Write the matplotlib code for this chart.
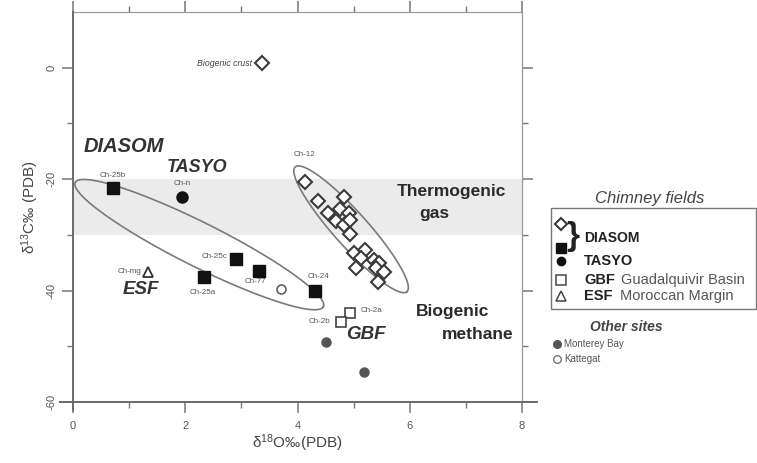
import numpy as np
import matplotlib
matplotlib.use("Agg")
import matplotlib.pyplot as plt
from matplotlib.lines import Line2D
from matplotlib.patches import Rectangle

plt.rcParams['font.family'] = ['Liberation Sans', 'DejaVu Sans']
plt.rcParams['mathtext.fontset'] = 'custom'
plt.rcParams['mathtext.rm'] = 'Liberation Sans'
plt.rcParams['mathtext.it'] = 'Liberation Sans:italic'
plt.rcParams['mathtext.bf'] = 'Liberation Sans:bold'

# ---------------- data ----------------
diasom_open_x = [4.13, 4.36, 4.82, 4.55, 4.75, 4.91, 4.68, 4.82, 4.93, 4.93,
                 5.00, 5.20, 5.13, 5.05, 5.36, 5.45, 5.39, 5.55, 5.43]
diasom_open_y = [-20.6, -24.0, -23.2, -26.0, -25.3, -26.0, -27.6, -28.2, -27.3, -29.8,
                 -33.2, -32.8, -34.1, -35.9, -34.5, -35.0, -35.9, -36.6, -38.4]
diasom_filled_x = [0.71, 2.91, 2.34, 3.32, 4.32]
diasom_filled_y = [-21.5, -34.3, -37.5, -36.4, -40.0]
diasom_filled_labels = ['Ch-25b', 'Ch-25c', 'Ch-25a', 'Ch-77', 'Ch-24']
tasyo_x = [1.95]
tasyo_y = [-23.2]
tasyo_labels = ['Ch-n']
gbf_x = [4.93, 4.77]
gbf_y = [-44.0, -45.6]
gbf_labels = ['Ch-2a', 'Ch-2b']
esf_x = [1.34]
esf_y = [-36.6]
esf_labels = ['Ch-mg']
monterey_x = [4.50, 5.18]
monterey_y = [-49.2, -54.7]
kattegat_x = [3.70]
kattegat_y = [-39.8]
crust_x = [3.36]
crust_y = [0.8]
xticks = [0, 2, 4, 6, 8]
yticks = [-60, -40, -20, 0]

W, H = 757, 463
fig = plt.figure(figsize=(W / 100, H / 100), dpi=100)
ax = fig.add_axes([73 / W, 1 - 402 / H, 449 / W, 390 / H])
ax.set_xlim(0, 8)
ax.set_ylim(-60, 10)

# thermogenic band
ax.axhspan(-30, -20, color='#ebebeb', zorder=0, lw=0)

DARK = '#222222'
OPEN_EC = '#3a3a3a'

ax.plot(diasom_open_x, diasom_open_y, 'D', ms=7, mfc='white', mec=OPEN_EC, mew=1.5, ls='none', zorder=4)
ax.plot(crust_x, crust_y, 'D', ms=7, mfc='white', mec=OPEN_EC, mew=1.5, ls='none', zorder=4)
ax.plot(diasom_filled_x, diasom_filled_y, 's', ms=8, mfc='#111111', mec='#111111', ls='none', zorder=4)
ax.plot(tasyo_x, tasyo_y, 'o', ms=8, mfc='#111111', mec='#111111', ls='none', zorder=4)
ax.plot(gbf_x, gbf_y, 's', ms=6.5, mfc='white', mec='#444444', mew=1.2, ls='none', zorder=4)
ax.plot(esf_x, esf_y, '^', ms=7, mfc='white', mec='#333333', mew=1.3, ls='none', zorder=4)
ax.plot(monterey_x, monterey_y, 'o', ms=6.5, mfc='#555555', mec='#555555', ls='none', zorder=4)
ax.plot(kattegat_x, kattegat_y, 'o', ms=6.5, mfc='white', mec='#555555', mew=1.1, ls='none', zorder=4)

# point labels (offsets in points)
lab_kw = dict(textcoords='offset points', fontsize=5.8, color='#555555', va='center', ha='center', zorder=5)
filled_offsets = [(0, 8.6), (-16, 1.4), (-1, -11.5), (-3, -8), (2, 10)]
for x, y, t, off in zip(diasom_filled_x, diasom_filled_y, diasom_filled_labels, filled_offsets):
    ax.annotate(t, (x, y), xytext=off, **lab_kw)
ax.annotate(tasyo_labels[0], (tasyo_x[0], tasyo_y[0]), xytext=(0, 10), **lab_kw)
ax.annotate(gbf_labels[0], (gbf_x[0], gbf_y[0]), xytext=(16, 1.5), **lab_kw)
ax.annotate(gbf_labels[1], (gbf_x[1], gbf_y[1]), xytext=(-15, 0), **lab_kw)
ax.annotate(esf_labels[0], (esf_x[0], esf_y[0]), xytext=(-13.5, 0), **lab_kw)
ax.annotate('Ch-12', (diasom_open_x[0], diasom_open_y[0]), xytext=(0, 20), **lab_kw)
ax.annotate('Biogenic crust', (crust_x[0], crust_y[0]), xytext=(-7, 0), textcoords='offset points',
            fontsize=6.3, style='italic', color='#444444', va='center', ha='right')

# ellipses (given by end points in data coords and half width in pixels)
def draw_ellipse(p1, p2, half_w):
    T = ax.transData
    d1 = T.transform(p1)
    d2 = T.transform(p2)
    c = (d1 + d2) / 2
    a = (d2 - d1) / 2
    n = np.array([-a[1], a[0]]) / np.hypot(*a) * half_w
    t = np.linspace(0, 2 * np.pi, 300)
    pts = c + np.outer(np.cos(t), a) + np.outer(np.sin(t), n)
    dat = T.inverted().transform(pts)
    ax.plot(dat[:, 0], dat[:, 1], color='#7a7a7a', lw=1.2, zorder=3)

draw_ellipse((0.04, -20.6), (4.46, -42.9), 22)
draw_ellipse((3.96, -17.8), (5.95, -40.2), 17)

# group labels
big = dict(fontweight='bold', style='italic', color='#333333', ha='center', va='center')
ax.text(0.91, -14.2, 'DIASOM', fontsize=14.5, **big)
ax.text(2.21, -18.0, 'TASYO', fontsize=13, **big)
ax.text(1.21, -39.8, 'ESF', fontsize=13.5, **big)
ax.text(5.21, -47.9, 'GBF', fontsize=13.5, **big)
reg = dict(fontweight='bold', color='#2a2a2a', ha='center', va='center', fontsize=12.5)
ax.text(6.75, -22.3, 'Thermogenic', **reg)
ax.text(6.43, -26.2, 'gas', **reg)
ax.text(6.77, -43.8, 'Biogenic', **reg)
ax.text(7.21, -47.9, 'methane', **reg)

# axes styling
ax.set_xticks(xticks)
ax.set_xticks([1, 3, 5, 7], minor=True)
ax.set_yticks(yticks)
ax.set_yticks([-50, -30, -10], minor=True)
ax.set_yticklabels([str(v) for v in yticks], rotation=90, va='center')
ax.tick_params(axis='both', which='major', direction='out', length=8, width=1.1, color='#777777',
               labelsize=8, labelcolor='#555555', top=True, right=True)
ax.tick_params(axis='both', which='minor', direction='out', length=4, width=1.0, color='#777777',
               top=True, right=True)
ax.tick_params(axis='x', which='major', pad=6)
ax.tick_params(axis='y', which='major', pad=4)
for s in ['left', 'bottom']:
    ax.spines[s].set_visible(False)
for s in ['top', 'right']:
    ax.spines[s].set_color('#9a9a9a')
    ax.spines[s].set_linewidth(0.9)
# extended left/bottom axis lines (Grapher style)
ax.add_line(Line2D([-13 / 449, 1 + 15 / 449], [0, 0], transform=ax.transAxes, color='#6a6a6a',
                   lw=1.4, clip_on=False, zorder=6))
ax.add_line(Line2D([0, 0], [-8 / 390, 1], transform=ax.transAxes, color='#6a6a6a',
                   lw=1.4, clip_on=False, zorder=6))

ax.set_xlabel(r'δ$^{18}$O‰(PDB)', fontsize=11, color='#444444', labelpad=1)
ax.set_ylabel(r'δ$^{13}$C‰ (PDB)', fontsize=11, color='#444444', labelpad=4)

# -------- legend (figure coords) --------
def fx(px):
    return px / W

def fy(py):
    return 1 - py / H

fig.text(fx(650), fy(198), 'Chimney fields', style='italic', fontsize=12, color='#444444',
         ha='center', va='center')
fig.patches.append(Rectangle((fx(551), fy(309)), fx(756) - fx(551), fy(208) - fy(309),
                             transform=fig.transFigure, fill=False, ec='#777777', lw=1.0))

def fmark(px, py, **kw):
    fig.add_artist(Line2D([fx(px)], [fy(py)], transform=fig.transFigure, ls='none', **kw))

fmark(561, 224, marker='D', ms=6, mfc='white', mec=OPEN_EC, mew=1.5)
fmark(561, 248, marker='s', ms=6.5, mfc='#111111', mec='#111111')
fig.text(fx(573), fy(236), '}', fontsize=24, fontweight='bold', color='#222222', ha='center', va='center')
fig.text(fx(584), fy(238), 'DIASOM', fontsize=10, fontweight='bold', color='#222222', va='center')
fmark(561, 261, marker='o', ms=6, mfc='#111111', mec='#111111')
fig.text(fx(584), fy(261), 'TASYO', fontsize=10.5, fontweight='bold', color='#222222', va='center')
fmark(561, 280, marker='s', ms=6.5, mfc='white', mec='#444444', mew=1.1)
fig.text(fx(584), fy(280), 'GBF', fontsize=10.5, fontweight='bold', color='#222222', va='center')
fig.text(fx(621), fy(280), 'Guadalquivir Basin', fontsize=10.5, color='#555555', va='center')
fmark(561, 296, marker='^', ms=7, mfc='white', mec='#444444', mew=1.1)
fig.text(fx(584), fy(296), 'ESF', fontsize=10.5, fontweight='bold', color='#222222', va='center')
fig.text(fx(620), fy(296), 'Moroccan Margin', fontsize=10.5, color='#555555', va='center')

fig.text(fx(626), fy(327), 'Other sites', style='italic', fontweight='bold', fontsize=10,
         color='#444444', ha='center', va='center')
fmark(557, 344, marker='o', ms=5.5, mfc='#555555', mec='#555555')
fig.text(fx(564), fy(344), 'Monterey Bay', fontsize=7, color='#555555', va='center')
fmark(557, 359, marker='o', ms=5.5, mfc='white', mec='#777777', mew=1.0)
fig.text(fx(564), fy(359), 'Kattegat', fontsize=7, color='#555555', va='center')

fig.savefig('out.png', dpi=100)
